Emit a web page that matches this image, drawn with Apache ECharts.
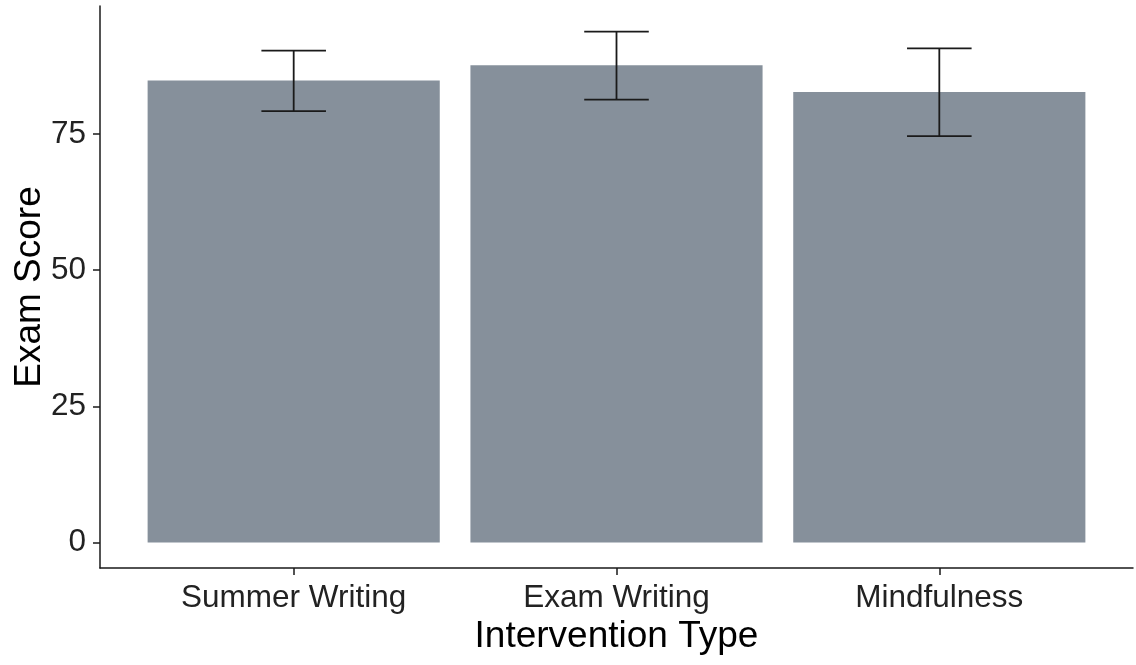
<!DOCTYPE html>
<html>
<head>
<meta charset="utf-8">
<title>Exam Score by Intervention Type</title>
<script src="https://cdn.jsdelivr.net/npm/echarts@6/dist/echarts.min.js"></script>
<style>
  html, body { margin: 0; padding: 0; background: #ffffff; }
  #chart { width: 1136px; height: 665px; }
</style>
</head>
<body>
<div id="chart"></div>
<script>
// Intervention groups and their mean exam scores with error bar limits
const categories = ['Summer Writing', 'Exam Writing', 'Mindfulness'];
const meanScores = [84.8, 87.6, 82.7];
const lowerLimits = [79.2, 81.3, 74.6];
const upperLimits = [90.3, 93.8, 90.7];
const yTicks = [0, 25, 50, 75];

const textFont = '"Liberation Sans", Arial, sans-serif';
const ink = '#1a1a1a';

const positions = categories.map((_, i) => i);
const barData = positions.map(i => [i, meanScores[i]]);
const errData = positions.map(i => [i, lowerLimits[i], upperLimits[i]]);

// Padding around the data range, as a share of the span
const yMaxData = Math.max(...upperLimits);
const yPad = yMaxData * 0.05;

const chart = echarts.init(document.getElementById('chart'), null, { renderer: 'canvas' });

chart.setOption({
  animation: false,
  backgroundColor: '#ffffff',
  grid: { left: 100, right: 3, top: 6, bottom: 97, containLabel: false, outerBoundsMode: 'none' },
  xAxis: {
    type: 'value',
    min: -0.6,
    max: categories.length - 1 + 0.6,
    name: 'Intervention Type',
    nameLocation: 'middle',
    nameGap: 50,
    nameMoveOverlap: false,
    nameTextStyle: { fontFamily: textFont, fontSize: 37, color: '#000' },
    axisLine: { show: true, onZero: false, lineStyle: { color: ink, width: 1.5 } },
    axisTick: { show: true, customValues: positions, length: 7, lineStyle: { color: ink, width: 1.5 } },
    axisLabel: {
      customValues: positions,
      margin: 14,
      fontFamily: textFont,
      fontSize: 31.5,
      color: '#222',
      formatter: v => categories[Math.round(v)]
    },
    splitLine: { show: false }
  },
  yAxis: {
    type: 'value',
    min: -yPad,
    max: yMaxData + yPad,
    name: 'Exam Score',
    nameLocation: 'middle',
    nameGap: 52,
    nameRotate: 90,
    nameMoveOverlap: false,
    nameTextStyle: { fontFamily: textFont, fontSize: 37, color: '#000' },
    axisLine: { show: true, onZero: false, lineStyle: { color: ink, width: 1.5 } },
    axisTick: { show: true, customValues: yTicks, length: 7, lineStyle: { color: ink, width: 1.5 } },
    axisLabel: {
      customValues: yTicks,
      margin: 14,
      fontFamily: textFont,
      fontSize: 31.5,
      color: '#222'
    },
    splitLine: { show: false }
  },
  series: [
    {
      type: 'bar',
      data: barData,
      barWidth: '90.5%',
      itemStyle: { color: '#86909b' },
      silent: true
    },
    {
      type: 'custom',
      data: errData,
      silent: true,
      z: 5,
      renderItem: function (params, api) {
        const x = api.value(0);
        const lo = api.coord([x, api.value(1)]);
        const hi = api.coord([x, api.value(2)]);
        const half = api.size([0.1, 0])[0];
        const style = { stroke: ink, lineWidth: 1.8 };
        return {
          type: 'group',
          children: [
            { type: 'line', shape: { x1: hi[0], y1: hi[1], x2: lo[0], y2: lo[1] }, style },
            { type: 'line', shape: { x1: hi[0] - half, y1: hi[1], x2: hi[0] + half, y2: hi[1] }, style },
            { type: 'line', shape: { x1: lo[0] - half, y1: lo[1], x2: lo[0] + half, y2: lo[1] }, style }
          ]
        };
      }
    }
  ]
});
</script>
</body>
</html>
